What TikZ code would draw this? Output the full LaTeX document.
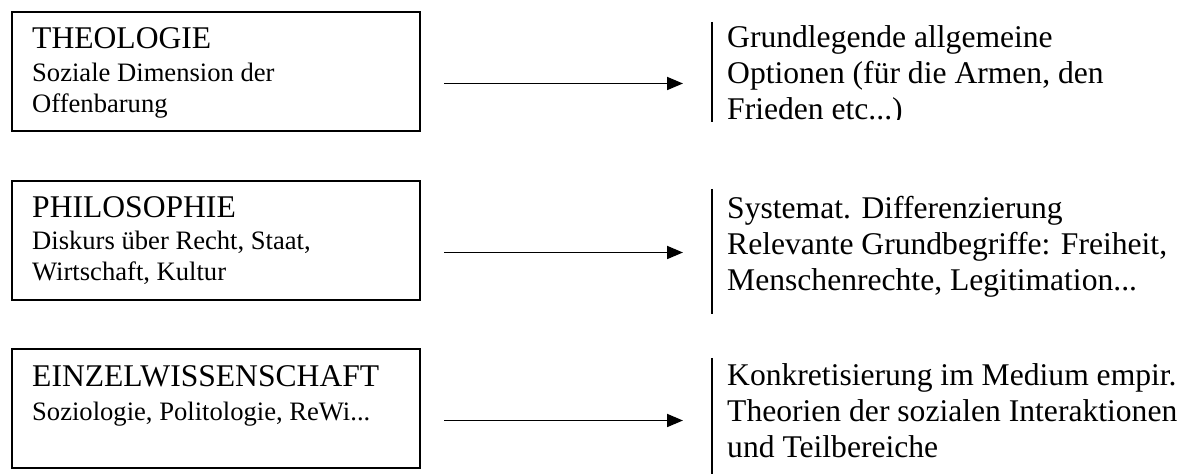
\documentclass[tikz,border=0pt]{standalone}
\usepackage{fontspec}
\setmainfont{Liberation Serif}
\usetikzlibrary{positioning,arrows.meta,calc}

\tikzset{
  fieldbox/.style={draw, line width=2pt, minimum width=408pt, minimum height=119pt,
    anchor=north west, inner sep=0pt},
  headtext/.style={anchor=base west, inner sep=0pt, font=\fontsize{31.6}{36}\selectfont},
  subtext/.style={anchor=base west, inner sep=0pt, align=left, font=\fontsize{26.6}{31}\selectfont},
  optframe/.style={anchor=north west, inner sep=0pt, minimum width=475pt},
  opttext/.style={anchor=base west, inner sep=0pt, align=left, font=\fontsize{31.6}{36}\selectfont},
  barline/.style={line width=2pt},
  flowarrow/.style={line width=1.8pt, -{Triangle[length=16pt,width=13pt]}}
}

\begin{document}
\begin{tikzpicture}[x=1pt,y=1pt]
  \useasboundingbox (0,0) rectangle (1187,474);

  % the three fields on the left
  \node[fieldbox] (theo) at (11,463) {};
  \node[fieldbox] (philo) at (11,294) {};
  \node[fieldbox] (einzel) at (11,126) {};

  % (multi-line nodes sit on the baseline of their last line)
  \node[headtext] (theo-head) at ($(theo.north west)+(21,-38)$) {THEOLOGIE};
  \node[subtext, below=64pt of theo-head.base west, anchor=base west] (theo-sub)
    {Soziale Dimension der\\Offenbarung};

  \node[headtext] (philo-head) at ($(philo.north west)+(21,-38)$) {PHILOSOPHIE};
  \node[subtext, below=63pt of philo-head.base west, anchor=base west] (philo-sub)
    {Diskurs über Recht, Staat,\\Wirtschaft, Kultur};

  \node[headtext] (einzel-head) at ($(einzel.north west)+(21,-39)$) {EINZELWISSENSCHAFT};
  \node[subtext, below=34pt of einzel-head.base west, anchor=base west] (einzel-sub)
    {Soziologie, Politologie, ReWi...};

  % frames on the right, only the left border is drawn
  \node[optframe, minimum height=100pt] (theo-opt) at (712,452) {};
  \node[optframe, minimum height=125pt] (philo-opt) at (712,285) {};
  \node[optframe, minimum height=116pt] (einzel-opt) at (712,116) {};

  \draw[barline] (theo-opt.north west) -- (theo-opt.south west);
  \draw[barline] (philo-opt.north west) -- (philo-opt.south west);
  \draw[barline] (einzel-opt.north west) -- (einzel-opt.south west);

  \begin{scope}
    \clip (theo-opt.north west) rectangle ([yshift=3pt]theo-opt.south east);
    \node[opttext] (theo-txt) at ($(theo-opt.north west)+(15,-98)$)
      {Grundlegende allgemeine\\Optionen (für die Armen, den\\Frieden etc...)};
  \end{scope}
  \node[opttext] (philo-txt) at ($(philo-opt.north west)+(15,-102)$)
    {Systemat. Differenzierung\\Relevante Grundbegriffe: Freiheit,\\Menschenrechte, Legitimation...};
  \node[opttext] (einzel-txt) at ($(einzel-opt.north west)+(15,-100)$)
    {Konkretisierung im Medium empir.\\Theorien der sozialen Interaktionen\\und Teilbereiche};

  % arrows
  \draw[flowarrow] ($(theo.east)+(23,-12)$) -- ($(theo.east -| theo-opt.west)+(-29,-12)$);
  \draw[flowarrow] ($(philo.east)+(23,-12)$) -- ($(philo.east -| philo-opt.west)+(-29,-12)$);
  \draw[flowarrow] ($(einzel.east)+(23,-12)$) -- ($(einzel.east -| einzel-opt.west)+(-29,-12)$);
\end{tikzpicture}
\end{document}
